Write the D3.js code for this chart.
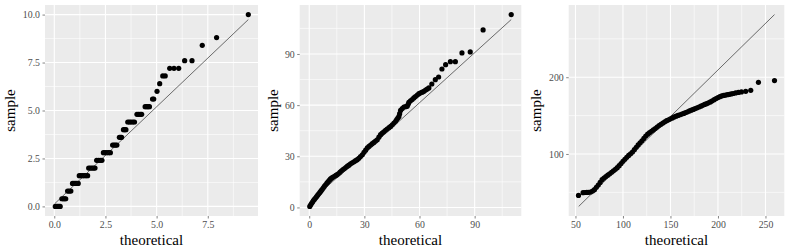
<!DOCTYPE html>
<html><head><meta charset="utf-8">
<script src="https://cdn.jsdelivr.net/npm/d3@7/dist/d3.min.js"></script>
<style>body{margin:0;background:#fff}svg{display:block}</style>
</head><body><svg id="chart" width="789" height="251"></svg>
<script>
// ---------- Panel 1 data (theoretical quantile, sample) ----------
const theoretical1 = [0.05,0.11,0.17,0.23,0.29, 0.37,0.44,0.50,0.56, 0.65,0.73,0.81,
  0.89,0.96,1.03,1.10,1.17, 1.22,1.30,1.38,1.46,1.55,1.63, 1.68,1.76,1.84,1.92,1.99,
  2.07,2.16,2.25,2.33, 2.40,2.48,2.57,2.66,2.74, 2.85,2.92,2.99,3.06, 3.18,3.24,3.29,
  3.38,3.44,3.50, 3.59,3.67,3.75,3.84,3.92, 4.04,4.12,4.20,4.27, 4.44,4.51,4.58,4.65,
  4.80,4.86, 5.02, 5.15, 5.30,5.42, 5.64,5.85,6.08, 6.37,6.73, 7.23, 7.93, 9.48];
const sample1 = [0,0,0,0,0, 0.4,0.4,0.4,0.4, 0.8,0.8,0.8,
  1.2,1.2,1.2,1.2,1.2, 1.6,1.6,1.6,1.6,1.6,1.6, 2.0,2.0,2.0,2.0,2.0,
  2.4,2.4,2.4,2.4, 2.8,2.8,2.8,2.8,2.8, 3.2,3.2,3.2,3.2, 3.6,3.6,3.6,
  4.0,4.0,4.0, 4.4,4.4,4.4,4.4,4.4, 4.8,4.8,4.8,4.8, 5.2,5.2,5.2,5.2,
  5.6,5.6, 6.0, 6.4, 6.8,6.8, 7.2,7.2,7.2, 7.6,7.6, 8.4, 8.8, 10.0];
const lineX1 = [0.02, 9.48];
const lineY1 = [0.14, 9.74];
const xTicks1 = [0, 2.5, 5, 7.5];
const xTickLabels1 = ["0.0", "2.5", "5.0", "7.5"];
const yTicks1 = [0, 2.5, 5, 7.5, 10];
const yTickLabels1 = ["0.0", "2.5", "5.0", "7.5", "10.0"];

// ---------- Panel 2 data ----------
const theoretical2 = [0.3,0.8,1.3,1.8,2.3,2.8,3.4,4.0,4.6,5.2,5.8,6.4,7.0,7.6,8.2,8.9,9.6,10.3,11.0,11.6,
  12.3,13.0,13.8,14.5,15.2,16.0,16.8,17.6,18.4,19.2,20.0,20.8,21.6,22.5,23.4,24.3,25.2,26.1,27.0,27.9,
  28.9,29.8,30.7,31.6,32.5,33.4,34.3,35.2,36.1,37.0,37.9,38.8,39.7,40.6,41.5,42.4,43.4,44.3,45.2,46.1,
  47.0,47.6,48.2,48.8,49.2,49.7,50.6,51.5,52.4,53.3,53.8,54.2,55.1,56.0,56.9,57.8,58.8,59.7,60.6,61.5,
  62.4,63.3,64.2,65.1,66.7,68.6,70.4,72.2,74.2,76.8,79.5,83.1,87.6,94.6,109.9];
const sample2 = [0.6,1.5,2.4,3.2,4.0,4.7,5.5,6.3,7.2,8.0,8.8,9.7,10.5,11.4,12.3,13.3,14.2,15.1,16.0,16.7,
  17.3,17.8,18.3,18.8,19.2,19.9,20.7,21.5,22.2,22.8,23.5,24.2,24.8,25.6,26.2,26.8,27.4,28.0,28.8,29.8,
  30.9,32.3,33.6,34.9,35.8,36.6,37.4,38.1,38.9,39.7,41.2,42.7,43.6,44.4,45.2,46.0,46.8,47.5,48.5,49.5,
  50.5,51.5,52.4,53.4,55.0,56.9,58.0,58.9,59.1,59.3,60.5,61.6,62.5,63.3,64.2,65.0,65.9,66.7,67.2,67.6,
  68.1,68.8,69.4,70.1,72.4,74.9,76.5,81.2,83.7,85.5,85.5,90.6,91.2,104.1,113.1];
const lineX2 = [0.3, 109.9];
const lineY2 = [3.0, 110.2];
const xTicks2 = [0, 30, 60, 90];
const xTickLabels2 = ["0", "30", "60", "90"];
const yTicks2 = [0, 30, 60, 90];
const yTickLabels2 = ["0", "30", "60", "90"];

// ---------- Panel 3 data ----------
const theoretical3 = [53.2,58,60,62,64,66,68,70,72,74,76,78,80,82,84,86,88,90,92,94,96,98,100,
  102,104,106,108,110,112,114,116,118,120,122,124,126,128,130,132,134,136,138,140,142,144,146,148,
  150,152,154,156,158,160,162,164,166,168,170,172,174,176,178,180,182,184,186,188,190,192,194,196,
  198,200,202,204,206,208,210,212,214,216,218.6,221.5,224.7,229.2,234.5,242.6,259.5];
const sample3 = [46.0,49.6,49.8,49.9,50.0,50.5,51.8,53.5,56.5,59.5,63.0,66.5,68.6,70.6,72.4,74.2,76.1,78.0,80.0,82.2,84.8,87.6,90.4,
  93.0,95.7,98.1,100.3,102.6,105.6,108.8,111.8,114.5,117.2,120.3,123.3,125.8,127.8,129.6,131.4,133.2,135.1,137.0,138.7,140.3,141.9,143.4,144.6,
  145.8,147.0,148.3,149.3,150.2,151.1,152.0,152.9,153.9,154.9,156.1,157.1,158.1,159.1,160.1,161.2,162.3,163.4,164.5,165.6,166.7,167.8,169.2,170.8,
  172.3,173.5,174.6,175.6,176.3,176.8,177.3,177.7,178.2,178.8,179.5,180.2,180.8,181.6,182.9,193.3,195.6];
const lineX3 = [53.4, 259.5];
const lineY3 = [31.7, 281.6];
const xTicks3 = [50, 100, 150, 200, 250];
const xTickLabels3 = ["50", "100", "150", "200", "250"];
const yTicks3 = [100, 200];
const yTickLabels3 = ["100", "200"];

const xTitle = "theoretical";
const yTitle = "sample";

// ---------- layout ----------
const panels = [
  {x: theoretical1, y: sample1, lx: lineX1, ly: lineY1, xt: xTicks1, xl: xTickLabels1, yt: yTicks1, yl: yTickLabels1, left: 45, right: 258, ytitleX: 15},
  {x: theoretical2, y: sample2, lx: lineX2, ly: lineY2, xt: xTicks2, xl: xTickLabels2, yt: yTicks2, yl: yTickLabels2, left: 299.7, right: 521.3, ytitleX: 278},
  {x: theoretical3, y: sample3, lx: lineX3, ly: lineY3, xt: xTicks3, xl: xTickLabels3, yt: yTicks3, yl: yTickLabels3, left: 568.7, right: 784.3, ytitleX: 541}
];
const panelTop = 5, panelBottom = 216;
const FONT = "'Liberation Serif', 'Times New Roman', serif";

const svg = d3.select("#chart");

function expanded(vals) {
  const [a, b] = d3.extent(vals);
  const r = b - a;
  return [a - 0.05 * r, b + 0.05 * r];
}
function minors(ticks, dom) {
  const step = ticks[1] - ticks[0];
  const out = [];
  for (let v = ticks[0] - step / 2; v <= dom[1]; v += step) {
    if (v >= dom[0] && v <= dom[1]) out.push(v);
  }
  return out;
}

panels.forEach((p, i) => {
  const xs = d3.scaleLinear().domain(expanded(p.x.concat(p.lx))).range([p.left, p.right]);
  const ys = d3.scaleLinear().domain(expanded(p.y.concat(p.ly))).range([panelBottom, panelTop]);
  const g = svg.append("g");

  g.append("rect").attr("x", p.left).attr("y", panelTop)
    .attr("width", p.right - p.left).attr("height", panelBottom - panelTop).attr("fill", "#EBEBEB");

  const xm = minors(p.xt, xs.domain()), ym = minors(p.yt, ys.domain());
  g.selectAll(".xm").data(xm).join("line")
    .attr("x1", d => xs(d)).attr("x2", d => xs(d)).attr("y1", panelTop).attr("y2", panelBottom)
    .attr("stroke", "#fff").attr("stroke-width", 0.6);
  g.selectAll(".ym").data(ym).join("line")
    .attr("y1", d => ys(d)).attr("y2", d => ys(d)).attr("x1", p.left).attr("x2", p.right)
    .attr("stroke", "#fff").attr("stroke-width", 0.6);
  g.selectAll(".xM").data(p.xt).join("line")
    .attr("x1", d => xs(d)).attr("x2", d => xs(d)).attr("y1", panelTop).attr("y2", panelBottom)
    .attr("stroke", "#fff").attr("stroke-width", 1.1);
  g.selectAll(".yM").data(p.yt).join("line")
    .attr("y1", d => ys(d)).attr("y2", d => ys(d)).attr("x1", p.left).attr("x2", p.right)
    .attr("stroke", "#fff").attr("stroke-width", 1.1);

  const xAxis = d3.axisBottom(xs).tickValues(p.xt).tickFormat((d, k) => p.xl[k])
    .tickSize(2.5).tickPadding(2.5);
  const yAxis = d3.axisLeft(ys).tickValues(p.yt).tickFormat((d, k) => p.yl[k])
    .tickSize(2.5).tickPadding(2.5);
  const ax = g.append("g").attr("transform", `translate(0,${panelBottom})`).call(xAxis);
  const ay = g.append("g").attr("transform", `translate(${p.left},0)`).call(yAxis);
  [ax, ay].forEach(a => {
    a.attr("font-family", null).attr("font-size", null);
    a.select(".domain").remove();
    a.selectAll(".tick line").attr("stroke", "#333").attr("stroke-width", 0.6);
    a.selectAll(".tick text").attr("fill", "#4d4d4d").style("font-family", FONT).style("font-size", "9.8px");
  });

  const pts = p.x.map((v, k) => [v, p.y[k]]);
  g.selectAll(".pt").data(pts).join("circle")
    .attr("cx", d => xs(d[0])).attr("cy", d => ys(d[1])).attr("r", 2.6).attr("fill", "#000");

  const lp = p.lx.map((v, k) => [v, p.ly[k]]);
  g.append("path").attr("d", d3.line().x(d => xs(d[0])).y(d => ys(d[1]))(lp))
    .attr("stroke", "#111").attr("stroke-width", 0.6).attr("fill", "none");

  g.append("text").attr("x", (p.left + p.right) / 2).attr("y", 244.5)
    .attr("text-anchor", "middle").style("font-family", FONT).style("font-size", "15px")
    .attr("fill", "#000").text(xTitle);
  g.append("text").attr("transform", `translate(${p.ytitleX},${(panelTop + panelBottom) / 2}) rotate(-90)`)
    .attr("text-anchor", "middle").style("font-family", FONT).style("font-size", "15px")
    .attr("fill", "#000").text(yTitle);
});
</script></body></html>
